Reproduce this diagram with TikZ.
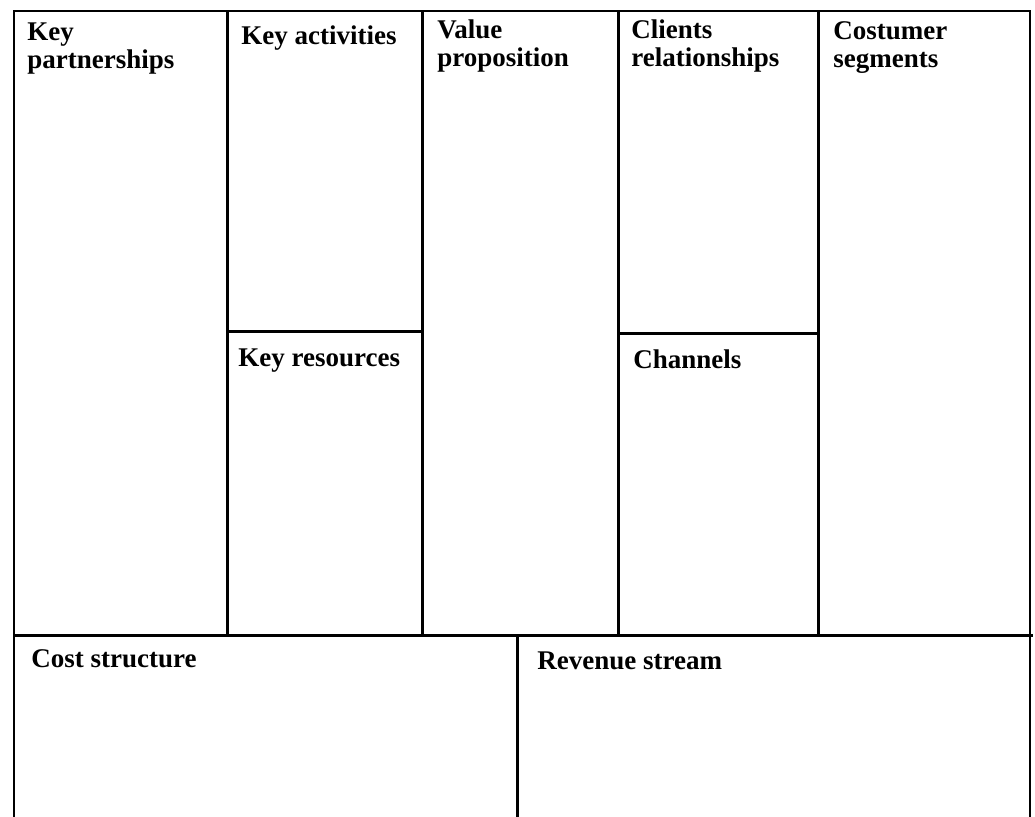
\documentclass[tikz,border=0pt]{standalone}
\usepackage{fontspec}
\setmainfont{Liberation Serif}
\usetikzlibrary{calc}

\begin{document}
\begin{tikzpicture}[x=0.5pt, y=-0.5pt,
	frame/.style={line width=1pt},
	grid/.style={line width=1.5pt},
	label/.style={anchor=base west, inner sep=0pt, align=left,
		font=\fontsize{13.5}{14}\selectfont\bfseries}]

	% ---- canvas

	\useasboundingbox (0,0) rectangle (1035,817);
	\fill[white] (0,0) rectangle (1035,817);

	% ---- coordinates

	\coordinate (TL) at (14,11);
	\coordinate (TR) at (1030,11);
	\coordinate (BL) at (14,817);
	\coordinate (BR) at (1030,817);

	\coordinate (C1) at (227,12);
	\coordinate (C2) at (422,12);
	\coordinate (C3) at (618,12);
	\coordinate (C4) at (818,12);

	\coordinate (M1) at (14,636);
	\coordinate (M2) at (1033,636);
	\coordinate (S1) at (517,636);
	\coordinate (S2) at (517,817);

	% ---- outer frame

	\draw[frame] (BL) -- (TL) -- (TR) -- (BR);

	% ---- columns

	\foreach \i in {1,...,4} { \draw[grid] (C\i) -- (C\i |- M1); }

	% ---- splits

	\draw[grid] ($(C1)+(0,320)$) -- ($(C2)+(0,320)$);
	\draw[grid] ($(C3)+(0,322)$) -- ($(C4)+(0,322)$);
	\draw[grid] (M1) -- (M2);
	\draw[grid] (S1) -- (S2);

	% ---- labels (two-line labels sit on their last baseline)

	\node[label] (kp) at (27,69) {Key\\partnerships};
	\node[label] (ka) at (241,45) {Key activities};
	\node[label] (kr) at (238,367) {Key resources};
	\node[label] (vp) at (437,67) {Value\\proposition};
	\node[label] (cr) at (631,67) {Clients\\relationships};
	\node[label] (ch) at (633,369) {Channels};
	\node[label] (cs) at (833,68) {Costumer\\segments};
	\node[label] (st) at (31,668) {Cost structure};
	\node[label] (rs) at (537,670) {Revenue stream};

\end{tikzpicture}
\end{document}
